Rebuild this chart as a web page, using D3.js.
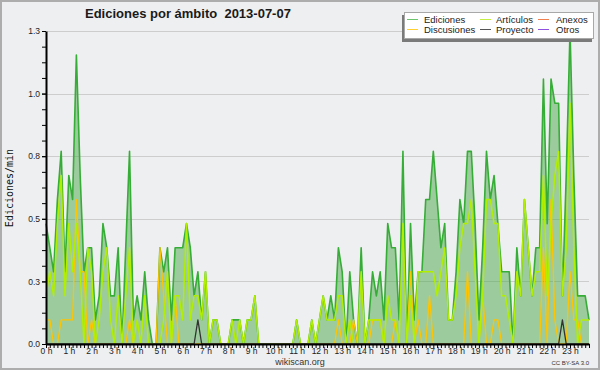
<!DOCTYPE html>
<html>
<head>
<meta charset="utf-8">
<script src="https://cdn.jsdelivr.net/npm/d3@7"></script>
<style>
  body { margin: 0; background: #eeeff0; }
  svg text { font-family: "Liberation Sans", Arial, sans-serif; }
</style>
</head>
<body>
<div id="chart"></div>
<script>
// edits per minute, one value per 10 minutes (00:00 .. 23:50)
var ediciones = [
  0.5,0.4,0.3,0.6,0.8,0.3,0.7,0.6,1.2,0.7,0.3,0.4,
  0.4,0.1,0.2,0.5,0.4,0.2,0.2,0.4,0.0,0.4,0.8,0.1,
  0.2,0.1,0.3,0.1,0.0,0.0,0.4,0.3,0.4,0.1,0.4,0.4,
  0.4,0.5,0.4,0.2,0.3,0.1,0.3,0.0,0.1,0.1,0.0,0.0,
  0.0,0.1,0.1,0.1,0.0,0.1,0.1,0.2,0.0,0.0,0.0,0.0,
  0.0,0.0,0.0,0.0,0.0,0.0,0.1,0.0,0.0,0.0,0.1,0.0,
  0.1,0.2,0.1,0.2,0.1,0.4,0.3,0.0,0.3,0.1,0.0,0.4,
  0.0,0.1,0.3,0.2,0.3,0.1,0.5,0.4,0.4,0.1,0.8,0.0,
  0.5,0.1,0.3,0.3,0.6,0.6,0.8,0.6,0.4,0.5,0.1,0.1,
  0.3,0.6,0.5,0.8,0.8,0.5,0.1,0.4,0.8,0.6,0.7,0.5,
  0.3,0.3,0.3,0.0,0.4,0.2,0.6,0.4,0.2,0.4,0.4,1.1,
  0.5,1.1,1.0,1.0,0.2,0.7,1.3,0.7,0.2,0.2,0.2,0.1
];
var articulos = [
  0.2,0.3,0.2,0.5,0.7,0.2,0.5,0.3,0.5,0.3,0.0,0.4,
  0.3,0.0,0.1,0.3,0.4,0.1,0.0,0.2,0.0,0.2,0.4,0.0,
  0.1,0.0,0.2,0.0,0.0,0.0,0.0,0.1,0.3,0.0,0.2,0.2,
  0.1,0.5,0.1,0.2,0.2,0.1,0.3,0.0,0.1,0.1,0.0,0.0,
  0.0,0.1,0.0,0.1,0.0,0.1,0.1,0.2,0.0,0.0,0.0,0.0,
  0.0,0.0,0.0,0.0,0.0,0.0,0.1,0.0,0.0,0.0,0.1,0.0,
  0.1,0.2,0.1,0.1,0.1,0.2,0.2,0.0,0.1,0.0,0.0,0.3,
  0.0,0.1,0.1,0.1,0.1,0.0,0.2,0.1,0.1,0.0,0.5,0.0,
  0.2,0.0,0.3,0.3,0.3,0.3,0.3,0.2,0.3,0.4,0.1,0.1,
  0.2,0.4,0.5,0.5,0.6,0.3,0.0,0.2,0.6,0.6,0.5,0.5,
  0.2,0.2,0.1,0.0,0.3,0.2,0.6,0.4,0.2,0.3,0.3,0.7,
  0.2,0.5,0.7,0.8,0.2,0.4,1.0,0.4,0.0,0.1,0.1,0.1
];
var discusiones = [
  0.1,0.1,0.0,0.0,0.1,0.1,0.1,0.1,0.6,0.3,0.3,0.0,
  0.1,0.0,0.0,0.0,0.0,0.0,0.0,0.0,0.0,0.0,0.1,0.0,
  0.0,0.0,0.0,0.0,0.0,0.0,0.4,0.2,0.0,0.0,0.2,0.0,
  0.0,0.0,0.0,0.0,0.0,0.0,0.0,0.0,0.0,0.0,0.0,0.0,
  0.0,0.0,0.0,0.0,0.0,0.0,0.0,0.0,0.0,0.0,0.0,0.0,
  0.0,0.0,0.0,0.0,0.0,0.0,0.0,0.0,0.0,0.0,0.0,0.0,
  0.0,0.0,0.0,0.0,0.0,0.1,0.0,0.0,0.0,0.1,0.0,0.0,
  0.0,0.0,0.1,0.1,0.1,0.0,0.0,0.0,0.1,0.0,0.0,0.0,
  0.3,0.0,0.1,0.0,0.0,0.2,0.0,0.0,0.0,0.0,0.0,0.0,
  0.0,0.0,0.0,0.3,0.0,0.0,0.0,0.2,0.0,0.0,0.1,0.1,
  0.0,0.0,0.0,0.0,0.0,0.0,0.0,0.0,0.0,0.0,0.0,0.4,
  0.0,0.6,0.1,0.0,0.0,0.0,0.3,0.1,0.1,0.0,0.0,0.0
];
var proyecto = [
  0,0,0,0,0,0,0,0,0,0,0,0,
  0,0,0,0,0,0,0,0,0,0,0,0,
  0,0,0,0,0,0,0,0,0,0,0,0,
  0,0,0,0,0.1,0,0,0,0,0,0,0,
  0,0,0,0,0,0,0,0,0,0,0,0,
  0,0,0,0,0,0,0,0,0,0,0,0,
  0,0,0,0,0,0,0,0,0,0,0,0,
  0,0,0,0,0,0,0,0,0,0,0,0,
  0,0,0,0,0,0,0,0,0,0,0,0,
  0,0,0,0,0,0,0,0,0,0,0,0,
  0,0,0,0,0,0,0,0,0,0,0,0,
  0,0,0,0,0.1,0,0,0,0,0,0,0
];
var hourLabels = ['0 h','1 h','2 h','3 h','4 h','5 h','6 h','7 h','8 h','9 h','10 h','11 h',
                  '12 h','13 h','14 h','15 h','16 h','17 h','18 h','19 h','20 h','21 h','22 h','23 h'];
var yTicks = [0, 0.26, 0.52, 0.78, 1.04, 1.3];
var legendNames = ['Ediciones', 'Artículos', 'Anexos', 'Discusiones', 'Proyecto', 'Otros'];
var legendColors = ['#6cc46c', '#c4ee44', '#f08050', '#ffd030', '#555555', '#9050e0'];

var width = 600, height = 370;

var xScale = d3.scaleLinear().domain([0, ediciones.length - 1]).range([46, 589]);
var yScale = d3.scaleLinear().domain([0, 1.3]).range([344, 31]);

var svg = d3.select('#chart').append('svg')
    .attr('width', width)
    .attr('height', height);

svg.append('rect')
    .attr('x', 1).attr('y', 1)
    .attr('width', width - 2).attr('height', height - 2)
    .style('fill', '#eeeff0')
    .style('stroke', '#adadad')
    .style('stroke-width', 2);

// grid
svg.append('g').selectAll('line')
    .data(yTicks.slice(1))
    .join('line')
    .attr('x1', 47).attr('x2', 589)
    .attr('y1', d => Math.round(yScale(d)) + 0.5)
    .attr('y2', d => Math.round(yScale(d)) + 0.5)
    .style('stroke', '#cdcdcd');

// Ediciones area + lines
var area = d3.area()
    .x((d, i) => xScale(i))
    .y0(yScale(0))
    .y1(d => yScale(d));
var line = d3.line()
    .x((d, i) => xScale(i))
    .y(d => yScale(d));

svg.append('path')
    .attr('d', area(ediciones))
    .style('fill', '#4aa84a')
    .style('fill-opacity', 0.5);

var series = [
    {values: ediciones, color: '#36ad36', w: 1.6},
    {values: discusiones, color: '#ffc400', w: 1.3},
    {values: articulos, color: '#b2ee00', w: 1.5},
    {values: proyecto, color: '#333333', w: 1.3}
];
series.forEach(s => {
    svg.append('path')
        .attr('d', line(s.values))
        .style('fill', 'none')
        .style('stroke', s.color)
        .style('stroke-width', s.w)
        .style('stroke-linejoin', 'round');
});

// axes
var yMinor = d3.range(0, 1.3001, 0.065);
svg.append('g')
    .attr('transform', 'translate(46,0)')
    .call(d3.axisLeft(yScale).tickValues(yMinor).tickSize(4).tickSizeOuter(0).tickFormat(''))
    .call(g => g.select('.domain').remove());
var yAxis = svg.append('g')
    .attr('transform', 'translate(46,0)')
    .call(d3.axisLeft(yScale).tickValues(yTicks).tickSize(4).tickSizeOuter(0).tickPadding(2).tickFormat(d3.format('.1f')));
yAxis.select('.domain').style('stroke-width', 2);
yAxis.selectAll('text').style('font-size', '8.5px').style('fill', '#222').style('font-family', '"Liberation Sans", Arial');

var xAxis = svg.append('g')
    .attr('transform', 'translate(0,344)')
    .call(d3.axisBottom(xScale)
        .tickValues(d3.range(ediciones.length))
        .tickSize(4).tickSizeOuter(0).tickPadding(0)
        .tickFormat(i => i % 6 ? '' : hourLabels[i / 6]));
xAxis.select('.domain').style('stroke-width', 2);
xAxis.selectAll('text').style('font-size', '8.5px').style('fill', '#222').style('font-family', '"Liberation Sans", Arial');

// labels
svg.append('text')
    .attr('x', 85).attr('y', 18)
    .style('font-size', '13px')
    .style('font-weight', 'bold')
    .style('fill', '#1a1a1a')
    .style('white-space', 'pre')
    .text('Ediciones por ámbito  2013-07-07');
svg.append('text')
    .attr('transform', 'translate(13,188) rotate(-90)')
    .attr('text-anchor', 'middle')
    .style('font-family', '"DejaVu Sans Mono", monospace')
    .style('font-size', '10px')
    .style('fill', '#111')
    .text('Ediciones/min');
svg.append('text')
    .attr('x', 300).attr('y', 365)
    .attr('text-anchor', 'middle')
    .style('font-size', '9px')
    .style('fill', '#333')
    .text('wikiscan.org');
svg.append('text')
    .attr('x', 589).attr('y', 365)
    .attr('text-anchor', 'end')
    .style('font-size', '6px')
    .style('fill', '#333')
    .text('CC BY-SA 3.0');

// legend
var legend = svg.append('g');
legend.append('rect')
    .attr('x', 402).attr('y', 15).attr('width', 190).attr('height', 27)
    .style('fill', '#7a7a7a');
legend.append('rect')
    .attr('x', 404.5).attr('y', 12.5).attr('width', 189).attr('height', 26)
    .style('fill', '#ffffff')
    .style('stroke', '#a8a8a8');
var colLine = [407, 480, 538], colText = [424, 496, 556], rowY = [19, 29];
legendNames.forEach((name, k) => {
    var c = k % 3, r = Math.floor(k / 3);
    legend.append('line')
        .attr('x1', colLine[c]).attr('x2', colLine[c] + 11)
        .attr('y1', rowY[r] + 0.5).attr('y2', rowY[r] + 0.5)
        .style('stroke', legendColors[k]);
    legend.append('text')
        .attr('x', colText[c]).attr('y', rowY[r] + 3.5)
        .style('font-size', '9.5px')
        .style('fill', '#222')
        .text(name);
});
</script>
</body>
</html>
